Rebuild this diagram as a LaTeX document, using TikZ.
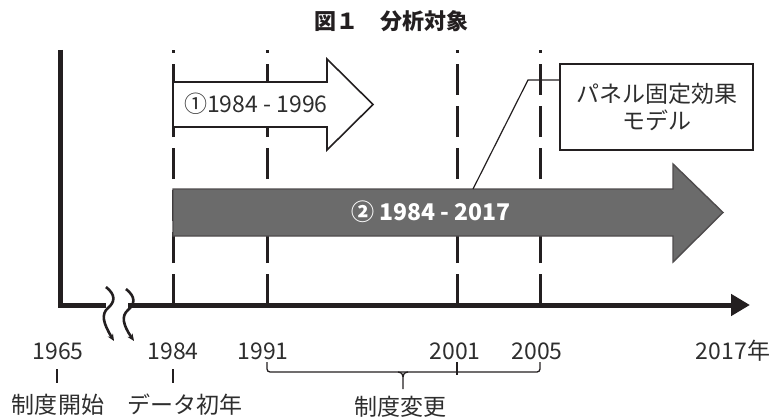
\documentclass[tikz,border=0pt]{standalone}
\usepackage{fontspec}
\setmainfont{Noto Sans CJK JP}
\usetikzlibrary{arrows.meta}
\definecolor{ink}{HTML}{231F20}
\definecolor{txt}{HTML}{2E2E2E}
\definecolor{arrowgray}{HTML}{6B6B6B}
\tikzset{
  lbl/.style={font=\fontsize{23}{27}\selectfont, text=txt, inner sep=0pt},
  ttl/.style={font=\fontsize{22}{26}\selectfont\bfseries, text=ink, inner sep=0pt},
  axisline/.style={draw=ink, line width=5pt, line join=miter},
  vdash/.style={draw=ink, line width=3pt, dash pattern=on 31pt off 11pt},
  breakmark/.style={draw=ink, line width=2.6pt, -{Stealth[length=7pt,width=6pt]}},
  whitearrow/.style={draw=ink, fill=white, line width=1.6pt, line join=miter},
  grayarrow/.style={draw=ink!80, fill=arrowgray, line width=1.4pt, line join=miter},
  boxstyle/.style={draw=ink, line width=1.5pt, minimum width=193pt, minimum height=86pt, align=center, inner sep=0pt, font=\fontsize{23}{27}\selectfont, text=txt},
  thin/.style={draw=ink, line width=1.3pt},
}
\begin{document}
\begin{tikzpicture}[x=1pt,y=-1pt]
\useasboundingbox (0,0) rectangle (773,417);
% title
\node[ttl] (title) at (391,21) {図１　分析対象};

% key coordinates
\coordinate (ytop) at (60,50);
\coordinate (origin) at (60,305);
\coordinate (brkL) at (106,305);
\coordinate (brkR) at (128,305);
\coordinate (xend) at (750,305);
\foreach \n/\x in {a/173,b/267,c/457,d/540}{
  \coordinate (\n bot) at (\x,305);
  \coordinate (\n top) at (\x,50);
}

% dashed verticals
\foreach \n in {a,b,c,d}{ \draw[vdash] (\n bot) -- (\n top); }

% axes
\draw[axisline] (ytop) -- (origin) -- (brkL);
\draw[axisline, -{Triangle[length=19pt,width=21pt]}] (brkR) -- (xend);

% break marks
\draw[breakmark] (106,287) .. controls (116,295) and (115,302) .. (108,308) .. controls (101,314) and (103,323) .. (114,341);
\draw[breakmark] (126,289) .. controls (136,297) and (135,304) .. (128,310) .. controls (121,316) and (123,325) .. (134,341);

% arrow 1
\draw[whitearrow] (173,82) -- (327,82) -- (327,59) -- (373,104.5) -- (327,150) -- (327,127) -- (173,127) -- cycle;
\node[lbl, anchor=west] (a1) at (184,104) {①1984 - 1996};

% arrow 2
\draw[grayarrow] (173,189) -- (673,189) -- (673,164) -- (723,212.5) -- (673,262) -- (673,236) -- (173,236) -- cycle;
\node[lbl, anchor=west, text=white, font=\fontsize{23}{27}\selectfont\bfseries] (a2) at (351,212) {② 1984 - 2017};

% model box with callout
\node[boxstyle] (box) at (656.5,107) {パネル固定効果\\モデル};
\coordinate (cA) at (560,80);
\coordinate (cB) at (528,80);
\coordinate (cC) at (473,189);
\draw[thin, line width=1.2pt] (cA) -- (cB) -- (cC);

% year labels
\node[lbl] (y1965) at (58,351) {1965};
\node[lbl] (y1984) at (173,351) {1984};
\node[lbl] (y1991) at (263,351) {1991};
\node[lbl] (y2001) at (455,351) {2001};
\node[lbl] (y2005) at (537,351) {2005};
\node[lbl] (y2017) at (733,351) {2017年};

% small ticks and notes
\node[lbl] (n1) at (58,405) {制度開始};
\node[lbl] (n2) at (185,405) {データ初年};
\coordinate (t1a) at (57,369); \coordinate (t1b) at (57,383);
\coordinate (t2a) at (173,369); \coordinate (t2b) at (173,383);
\draw[thin] (t1a) -- (t1b);
\draw[thin] (t2a) -- (t2b);

% brace
\coordinate (bL) at (267,362);
\coordinate (bR) at (540,362);
\coordinate (bM) at (403,372);
\draw[thin, rounded corners=3pt] (bL) -- (267,372) -- (540,372) -- (bR);
\draw[thin] (457,362) -- (457,375);
\draw[thin] (398,372) .. controls (402,373) .. (403,377) -- (403,389);
\draw[thin] (408,372) .. controls (404,373) .. (403,377);
\node[lbl] (n3) at (400,407) {制度変更};
\end{tikzpicture}
\end{document}
